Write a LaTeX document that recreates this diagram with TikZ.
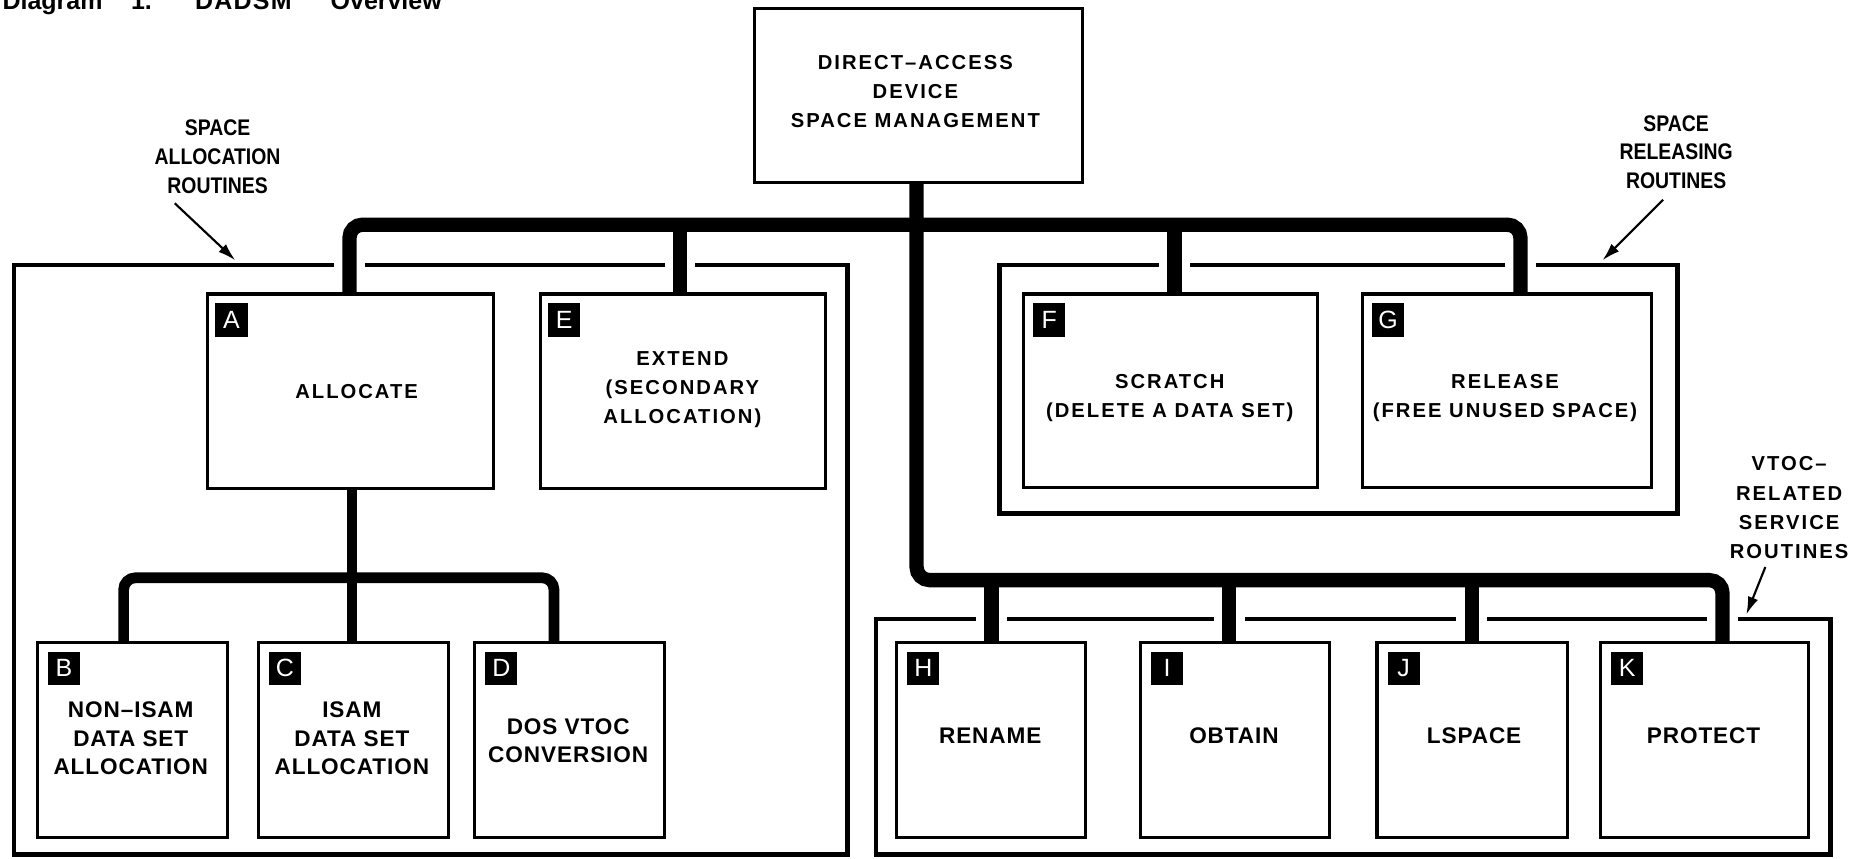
\documentclass[tikz,border=0pt]{standalone}
\usepackage{fontspec}
\setmainfont{Liberation Sans}
\newfontfamily\wfont[LetterSpace=10]{Liberation Sans}
\newfontfamily\tfont[LetterSpace=4]{Liberation Sans}
\newfontfamily\cfont[FakeStretch=0.86]{Liberation Sans}
\newfontfamily\dfont[LetterSpace=5]{Liberation Sans}
\usetikzlibrary{arrows.meta}
\begin{document}
\begin{tikzpicture}[x=1pt,y=-1pt,
  box/.style={draw, line width=2.6pt, inner sep=0pt, anchor=north west},
  outer/.style={draw, line width=3.8pt, inner sep=0pt, anchor=north west},
  txt/.style={align=center, inner sep=0pt, font=\wfont\bfseries\fontsize{17}{24.5}\selectfont},
  ttxt/.style={align=center, inner sep=0pt, font=\tfont\bfseries\fontsize{19}{24}\selectfont},
  ctxt/.style={align=center, inner sep=0pt, font=\cfont\bfseries\fontsize{19}{24.3}\selectfont},
  badge/.style={fill=black, text=white, anchor=north west, minimum width=27pt, minimum height=28pt, inner sep=0pt, font=\fontsize{21}{21}\selectfont},
  bus/.style={line width=12pt, rounded corners=11pt},
  sbus/.style={line width=9pt, rounded corners=10pt},
  gap/.style={white, line width=26pt},
  ttl/.style={anchor=base west, inner sep=0pt, font=\bfseries\fontsize{21}{21}\selectfont},
  pointer/.style={line width=1.8pt, -{Latex[length=15pt,width=9pt]}}]
\fill[white] (0,0) rectangle (1568,722);
\useasboundingbox (0,0) rectangle (1568,722);

% title (clipped at top, as in the reference)
\node[ttl] (t1) at (2,8) {Diagram};
\node[ttl] (t2) at (110,8) {1.};
\node[ttl] (t3) at (164,8) {\dfont DADSM};
\node[ttl] (t4) at (278,8) {Overview};

% outer group boxes
\node[outer, minimum width=701pt, minimum height=496pt] (Lout) at (10,221) {};
\node[outer, minimum width=570pt, minimum height=209pt] (Rout) at (839,221) {};
\node[outer, minimum width=803pt, minimum height=198pt] (Vout) at (735,519) {};

% top box
\node[box, minimum width=276pt, minimum height=146pt] (top) at (633,6) {};
\node[txt] (topt) at (770,77) {DIRECT–ACCESS\\DEVICE\\SPACE MANAGEMENT};

% boxes
\node[box, minimum width=241pt, minimum height=164pt] (A) at (173,246) {};
\node[box, minimum width=240pt, minimum height=164pt] (E) at (453,246) {};
\node[box, minimum width=247pt, minimum height=163pt] (F) at (860,246) {};
\node[box, minimum width=243pt, minimum height=163pt] (G) at (1145,246) {};
\node[box, minimum width=160pt, minimum height=164pt] (B) at (30,539) {};
\node[box, minimum width=160pt, minimum height=164pt] (C) at (216,539) {};
\node[box, minimum width=160pt, minimum height=164pt] (D) at (398,539) {};
\node[box, minimum width=159pt, minimum height=164pt] (H) at (753,539) {};
\node[box, minimum width=159pt, minimum height=164pt] (I) at (958,539) {};
\node[box, minimum width=160pt, minimum height=164pt] (J) at (1157,539) {};
\node[box, minimum width=175pt, minimum height=164pt] (K) at (1345,539) {};

% badges
\node[badge] (Ab) at (181,255) {A};
\node[badge] (Eb) at (461,255) {E};
\node[badge] (Fb) at (869,255) {F};
\node[badge] (Gb) at (1154,255) {G};
\node[badge] (Bb) at (40,548) {B};
\node[badge] (Cb) at (226,548) {C};
\node[badge] (Db) at (408,548) {D};
\node[badge] (Hb) at (763,548) {H};
\node[badge] (Ib) at (968,548) {I};
\node[badge] (Jb) at (1167,548) {J};
\node[badge] (Kb) at (1355,548) {K};

% box texts
\node[txt] (At) at (300,329) {ALLOCATE};
\node[txt] (Et) at (574,328) {EXTEND\\(SECONDARY\\ALLOCATION)};
\node[txt] (Ft) at (984,335) {SCRATCH\\(DELETE A DATA SET)};
\node[txt] (Gt) at (1266,335) {RELEASE\\(FREE UNUSED SPACE)};
\node[ttxt] (Bt) at (110,621) {NON–ISAM\\DATA SET\\ALLOCATION};
\node[ttxt] (Ct) at (296,621) {ISAM\\DATA SET\\ALLOCATION};
\node[ttxt] (Dt) at (478,623) {DOS VTOC\\CONVERSION};
\node[ttxt] (Ht) at (833,619) {RENAME};
\node[ttxt] (It) at (1038,619) {OBTAIN};
\node[ttxt] (Jt) at (1240,619) {LSPACE};
\node[ttxt] (Kt) at (1433,619) {PROTECT};

% group labels
\node[ctxt] (L1) at (183,132) {SPACE\\ALLOCATION\\ROUTINES};
\node[ctxt] (L2) at (1410,128) {SPACE\\RELEASING\\ROUTINES};
\node[txt] (L3) at (1505,427) {VTOC–\\RELATED\\SERVICE\\ROUTINES};

% bus coordinates
\coordinate (bus1) at (771,189);
\coordinate (bus2) at (1000,488);
\coordinate (bus3) at (296,486);
\coordinate (xA) at (294,0);
\coordinate (xE) at (572,0);
\coordinate (xF) at (988,0);
\coordinate (xG) at (1279,0);
\coordinate (xH) at (834,0);
\coordinate (xI) at (1034,0);
\coordinate (xJ) at (1238,0);
\coordinate (xK) at (1449,0);
\coordinate (xB) at (104,0);
\coordinate (xD) at (466,0);

% gaps in the group boxes' top lines where the connectors pass
\foreach \c/\o in {xA/Lout, xE/Lout, xF/Rout, xG/Rout, xH/Vout, xI/Vout, xJ/Vout, xK/Vout}{
  \draw[gap] ([yshift=-4pt]\c |- \o.north) -- ([yshift=4pt]\c |- \o.north);
}

% main buses
\draw[bus] (xA |- A.north) |- (bus1) -| (xG |- G.north);
\draw[bus] (top.south -| bus1) |- (bus2) -| (xK |- K.north);
\draw[line width=12pt] (xE |- bus1) -- (xE |- E.north);
\draw[line width=12pt] (xF |- bus1) -- (xF |- F.north);
\draw[line width=12pt] (xH |- bus2) -- (xH |- H.north);
\draw[line width=12pt] (xI |- bus2) -- (xI |- I.north);
\draw[line width=12pt] (xJ |- bus2) -- (xJ |- J.north);

% lower-left bus
\draw[line width=9pt] (A.south -| bus3) -- (bus3 |- C.north);
\draw[sbus] (xB |- B.north) |- (bus3) -| (xD |- D.north);

% pointers
\coordinate (p1s) at (147,171);
\coordinate (p1e) at (198,219);
\coordinate (p2s) at (1399,168);
\coordinate (p2e) at (1348,219);
\coordinate (p3s) at (1485,477);
\coordinate (p3e) at (1469,517);
\draw[pointer] (p1s) -- (p1e);
\draw[pointer] (p2s) -- (p2e);
\draw[pointer] (p3s) -- (p3e);
\end{tikzpicture}
\end{document}
